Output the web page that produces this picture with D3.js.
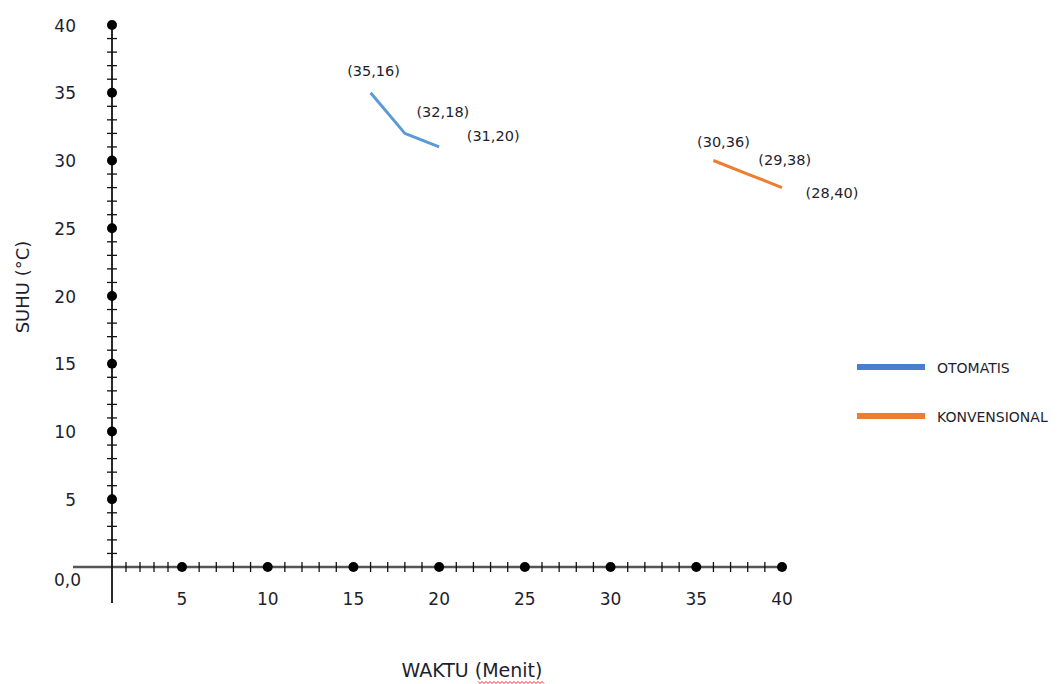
<!DOCTYPE html>
<html><head><meta charset="utf-8">
<script src="https://cdn.jsdelivr.net/npm/d3@7"></script>
<style>body{margin:0;background:#fff}svg{display:block}text{font-family:"DejaVu Sans",sans-serif;fill:#1e1e2e}</style>
</head><body><svg id="c" width="1063" height="684"></svg>
<script>
const seriesNames = ["OTOMATIS", "KONVENSIONAL"];
const timeOtomatis = [16, 18, 20];
const tempOtomatis = [35, 32, 31];
const timeKonvensional = [36, 38, 40];
const tempKonvensional = [30, 29, 28];
const xTickValues = [5, 10, 15, 20, 25, 30, 35, 40];
const yTickValues = [5, 10, 15, 20, 25, 30, 35, 40];
const colors = ["#5b9bd5", "#ed7d31"];
const legendColors = ["#4a7dd0", "#ed7d31"];

const svg = d3.select("#c");
const x = d3.scaleLinear().domain([0, 5, 40]).range([112, 182, 782]);
const y = d3.scaleLinear().domain([0, 40]).range([567, 25]);

// axes lines
svg.append("line").attr("x1", 73).attr("x2", x(40)).attr("y1", y(0)).attr("y2", y(0))
  .attr("stroke", "#555").attr("stroke-width", 2.5);
svg.append("line").attr("x1", x(0)).attr("x2", x(0)).attr("y1", y(40)).attr("y2", 603)
  .attr("stroke", "#111").attr("stroke-width", 1.8);

// minor ticks
const minor = d3.range(1, 40).filter(v => v % 5 !== 0);
svg.selectAll(".mx").data(minor).join("line")
  .attr("x1", d => x(d)).attr("x2", d => x(d)).attr("y1", y(0) - 5).attr("y2", y(0) + 5)
  .attr("stroke", "#111").attr("stroke-width", 1.3);
svg.selectAll(".my").data(minor).join("line")
  .attr("y1", d => y(d)).attr("y2", d => y(d)).attr("x1", x(0) - 5).attr("x2", x(0) + 5)
  .attr("stroke", "#111").attr("stroke-width", 1.3);

// major dots
svg.selectAll(".dx").data(xTickValues).join("circle")
  .attr("cx", d => x(d)).attr("cy", y(0)).attr("r", 5).attr("fill", "#000");
svg.selectAll(".dy").data(yTickValues).join("circle")
  .attr("cx", x(0)).attr("cy", d => y(d)).attr("r", 5).attr("fill", "#000");

// tick labels
svg.selectAll(".lx").data(xTickValues).join("text")
  .attr("x", d => x(d)).attr("y", 605).attr("text-anchor", "middle")
  .attr("font-size", 17).text(d => d);
svg.selectAll(".ly").data(yTickValues).join("text")
  .attr("x", 76).attr("y", d => y(d) + 6.5).attr("text-anchor", "end")
  .attr("font-size", 17).text(d => d);
svg.append("text").attr("x", 54).attr("y", 586).attr("font-size", 17).text("0,0");

// axis titles
svg.append("text").attr("transform", "translate(29,287) rotate(-90)")
  .attr("text-anchor", "middle").attr("font-size", 18).text("SUHU (°C)");
svg.append("text").attr("x", 472).attr("y", 677).attr("text-anchor", "middle")
  .attr("font-size", 19).text("WAKTU (Menit)");
// spell-check squiggle under "Menit"
const sq = d3.range(0, 34).map(i => [478 + i * 2, 682 + (i % 2 ? 1.5 : -0.5)]);
svg.append("path").attr("d", d3.line()(sq)).attr("fill", "none").attr("stroke", "#e03030").attr("stroke-width", 1);

// series
const series = [
  {t: timeOtomatis, v: tempOtomatis, offs: [[3, -17], [38, -16], [54, -6]]},
  {t: timeKonvensional, v: tempKonvensional, offs: [[10, -14], [37, -9], [50, 10]]}
];
const line = d3.line().x(d => x(d[0])).y(d => y(d[1]));
series.forEach((s, i) => {
  const pts = s.t.map((t, j) => [t, s.v[j]]);
  svg.append("path").attr("d", line(pts)).attr("fill", "none")
    .attr("stroke", colors[i]).attr("stroke-width", 3).attr("stroke-linejoin", "round");
  svg.selectAll(".pl" + i).data(pts).join("text")
    .attr("x", (d, j) => x(d[0]) + s.offs[j][0]).attr("y", (d, j) => y(d[1]) + s.offs[j][1])
    .attr("text-anchor", "middle").attr("font-size", 14.5)
    .text(d => `(${d[1]},${d[0]})`);
});

// legend
seriesNames.forEach((n, i) => {
  const ly = 367 + i * 49;
  svg.append("line").attr("x1", 857).attr("x2", 925).attr("y1", ly).attr("y2", ly)
    .attr("stroke", legendColors[i]).attr("stroke-width", 6);
  svg.append("text").attr("x", 937).attr("y", ly + 6).attr("font-size", 14).text(n);
});
</script></body></html>
